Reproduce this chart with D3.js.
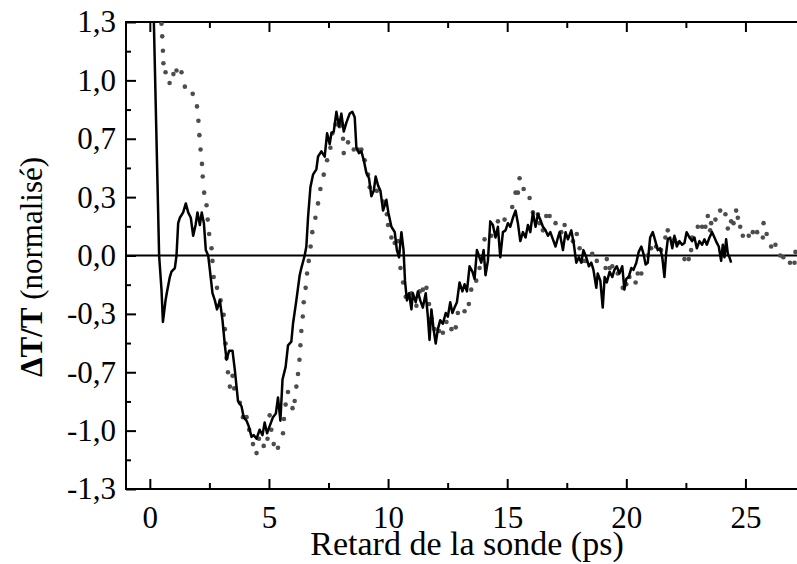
<!DOCTYPE html>
<html>
<head>
<meta charset="utf-8">
<script src="https://cdnjs.cloudflare.com/ajax/libs/d3/7.8.5/d3.min.js"></script>
<style>
  body { margin: 0; background: #fff; }
  svg text { font-family: "Liberation Serif", "Times New Roman", serif; fill: #000; }
</style>
</head>
<body>
<div id="chart"></div>
<script>
// measured signal (solid line) : delay in ps / normalised dT/T
const solidT = [
  0.10, 0.39, 0.49, 0.55, 0.66, 0.71, 0.84, 0.91, 1.05, 1.12,
  1.19, 1.26, 1.40, 1.51, 1.61, 1.72, 1.82, 1.92, 2.00, 2.10,
  2.18, 2.27, 2.35, 2.45, 2.52, 2.63, 2.73, 2.82, 2.94, 3.05,
  3.15, 3.22, 3.33, 3.47, 3.57, 3.70, 3.85, 3.94, 4.06, 4.15,
  4.27, 4.36, 4.48, 4.61, 4.73, 4.82, 4.92, 5.03, 5.17, 5.29,
  5.38, 5.48, 5.57, 5.70, 5.80, 5.94, 6.01, 6.15, 6.29, 6.36,
  6.50, 6.57, 6.64, 6.74, 6.85, 6.99, 7.06, 7.20, 7.34, 7.44,
  7.55, 7.62, 7.72, 7.83, 7.94, 8.04, 8.14, 8.25, 8.39, 8.50,
  8.60, 8.67, 8.78, 8.88, 8.98, 9.09, 9.20, 9.30, 9.40, 9.48,
  9.58, 9.68, 9.79, 9.93, 10.01, 10.14, 10.28, 10.37, 10.46, 10.56,
  10.65, 10.71, 10.79, 10.88, 10.98, 11.04, 11.16, 11.25, 11.35, 11.46,
  11.58, 11.67, 11.74, 11.82, 11.91, 12.00, 12.09, 12.19, 12.30, 12.42,
  12.51, 12.61, 12.70, 12.79, 12.89, 13.00, 13.12, 13.21, 13.31, 13.42,
  13.54, 13.63, 13.73, 13.81, 13.91, 14.01, 14.09, 14.19, 14.29, 14.40,
  14.51, 14.61, 14.71, 14.82, 14.93, 15.03, 15.13, 15.24, 15.35, 15.45,
  15.55, 15.66, 15.77, 15.87, 15.97, 16.08, 16.19, 16.29, 16.39, 16.50,
  16.61, 16.71, 16.81, 16.92, 17.03, 17.13, 17.20, 17.34, 17.45, 17.55,
  17.69, 17.79, 17.90, 18.01, 18.11, 18.20, 18.32, 18.43, 18.53, 18.62,
  18.74, 18.80, 18.91, 19.01, 19.09, 19.18, 19.30, 19.41, 19.50, 19.60,
  19.71, 19.83, 19.92, 20.00, 20.10, 20.21, 20.30, 20.42, 20.52, 20.63,
  20.72, 20.81, 20.90, 21.00, 21.11, 21.22, 21.32, 21.42, 21.51, 21.60,
  21.67, 21.74, 21.84, 21.93, 22.02, 22.12, 22.23, 22.34, 22.44, 22.53,
  22.65, 22.76, 22.86, 22.96, 23.07, 23.18, 23.28, 23.38, 23.49, 23.60,
  23.70, 23.80, 23.88, 23.98, 24.05, 24.12, 24.19, 24.26, 24.33, 24.40
];
const solidV = [
  1.71, 0.00, -0.19, -0.37, -0.25, -0.21, -0.12, -0.09, -0.07, 0.00,
  0.18, 0.21, 0.24, 0.29, 0.24, 0.21, 0.11, 0.17, 0.24, 0.17,
  0.24, 0.18, 0.03, 0.00, -0.08, -0.21, -0.25, -0.30, -0.25, -0.36,
  -0.50, -0.58, -0.53, -0.53, -0.64, -0.81, -0.84, -0.90, -0.92, -0.95,
  -1.01, -1.00, -1.02, -0.97, -1.00, -0.93, -0.99, -0.95, -0.90, -0.88,
  -0.79, -0.92, -0.69, -0.62, -0.50, -0.48, -0.38, -0.25, -0.11, -0.07,
  0.00, 0.05, 0.21, 0.38, 0.45, 0.48, 0.55, 0.58, 0.55, 0.68,
  0.62, 0.68, 0.69, 0.80, 0.72, 0.79, 0.69, 0.74, 0.79, 0.80,
  0.77, 0.60, 0.57, 0.58, 0.53, 0.46, 0.43, 0.33, 0.36, 0.44,
  0.39, 0.36, 0.25, 0.31, 0.24, 0.16, 0.13, 0.03, -0.01, 0.13,
  0.03, -0.14, -0.25, -0.21, -0.30, -0.21, -0.26, -0.20, -0.25, -0.29,
  -0.21, -0.34, -0.47, -0.30, -0.41, -0.49, -0.41, -0.36, -0.38, -0.32,
  -0.34, -0.26, -0.32, -0.29, -0.26, -0.15, -0.20, -0.16, -0.20, -0.06,
  -0.09, -0.13, 0.03, 0.00, -0.04, 0.03, -0.11, -0.03, 0.19, 0.17,
  0.10, 0.16, -0.01, 0.13, 0.14, 0.18, 0.16, 0.21, 0.25, 0.18,
  0.08, 0.13, 0.10, 0.17, 0.13, 0.24, 0.16, 0.23, 0.20, 0.16,
  0.14, 0.11, 0.13, 0.09, 0.05, 0.10, 0.13, 0.03, 0.13, 0.09,
  0.14, 0.07, -0.04, -0.01, -0.04, 0.03, -0.01, -0.06, -0.04, -0.08,
  -0.18, -0.10, -0.14, -0.29, -0.12, -0.15, -0.09, -0.12, -0.08, -0.06,
  -0.10, -0.06, -0.19, -0.13, -0.12, -0.07, -0.08, -0.04, 0.02, 0.05,
  0.01, -0.05, -0.04, 0.10, 0.13, 0.08, 0.03, 0.04, -0.01, -0.12,
  0.01, 0.09, 0.10, 0.04, 0.11, 0.05, 0.08, 0.06, 0.07, 0.13,
  0.10, 0.08, 0.10, 0.04, 0.08, 0.06, 0.09, 0.06, 0.10, 0.13,
  0.10, 0.07, 0.05, -0.03, 0.06, -0.01, 0.09, 0.01, -0.01, -0.04
];

// second curve (grey dots)
const dotT = [
  0.49, 0.52, 0.55, 0.57, 0.66, 0.83, 0.99, 1.12, 1.33, 1.47,
  1.80, 1.98, 2.04, 2.08, 2.13, 2.19, 2.22, 2.28, 2.38, 2.43,
  2.49, 2.59, 2.63, 2.68, 2.82, 2.97, 3.10, 3.15, 3.18, 3.22,
  3.28, 3.36, 3.47, 3.54, 3.78, 3.91, 4.06, 4.17, 4.33, 4.48,
  4.58, 4.78, 4.94, 5.03, 5.10, 5.20, 5.38, 5.59, 5.63, 5.70,
  5.80, 5.99, 6.08, 6.15, 6.22, 6.28, 6.32, 6.36, 6.42, 6.46,
  6.54, 6.60, 6.67, 6.75, 6.82, 6.95, 7.06, 7.16, 7.30, 7.44,
  7.58, 7.66, 7.80, 7.97, 8.07, 8.11, 8.14, 8.32, 8.56, 8.74,
  8.88, 9.02, 9.16, 9.23, 9.53, 9.79, 9.95, 10.00, 10.14, 10.28,
  10.42, 10.52, 10.63, 10.74, 10.88, 10.98, 11.19, 11.33, 11.46, 11.61,
  11.72, 11.82, 11.95, 12.14, 12.30, 12.45, 12.66, 12.84, 12.93, 13.21,
  13.39, 13.49, 13.70, 13.84, 14.05, 14.33, 14.61, 14.89, 15.21, 15.35,
  15.45, 15.52, 15.69, 15.94, 16.08, 16.29, 16.36, 16.50, 16.64, 16.78,
  17.03, 17.27, 17.41, 17.76, 17.92, 18.04, 18.15, 18.29, 18.57, 18.76,
  19.13, 19.18, 19.30, 19.41, 19.64, 19.85, 20.00, 20.13, 20.39, 20.48,
  20.63, 20.90, 21.04, 21.25, 21.46, 21.64, 21.74, 22.02, 22.16, 22.44,
  22.62, 22.72, 22.76, 23.00, 23.18, 23.32, 23.42, 23.52, 23.56, 23.74,
  23.94, 24.16, 24.26, 24.40, 24.50, 24.61, 24.68, 24.78, 24.89, 25.14,
  25.31, 25.49, 25.73, 25.76, 25.89, 26.08, 26.26, 26.46, 26.59, 26.87,
  27.06, 27.10
];
const dotV = [
  1.29, 1.22, 1.14, 1.07, 1.02, 0.96, 1.01, 1.03, 1.02, 0.94,
  0.90, 0.83, 0.75, 0.67, 0.59, 0.51, 0.44, 0.35, 0.28, 0.20,
  0.12, 0.04, -0.03, -0.12, -0.18, -0.25, -0.33, -0.41, -0.49, -0.57,
  -0.65, -0.73, -0.67, -0.74, -0.82, -0.90, -0.90, -0.97, -1.05, -1.10,
  -1.02, -1.06, -1.02, -0.89, -0.97, -1.05, -1.07, -0.99, -0.91, -0.83,
  -0.76, -0.85, -0.81, -0.73, -0.66, -0.58, -0.50, -0.42, -0.34, -0.26,
  -0.18, -0.10, -0.03, 0.05, 0.13, 0.21, 0.29, 0.37, 0.45, 0.53,
  0.60, 0.68, 0.73, 0.72, 0.73, 0.65, 0.57, 0.63, 0.59, 0.59,
  0.59, 0.53, 0.45, 0.38, 0.36, 0.30, 0.23, 0.17, 0.10, 0.07,
  0.08, -0.07, -0.15, -0.23, -0.23, -0.21, -0.28, -0.20, -0.19, -0.18,
  -0.27, -0.35, -0.41, -0.42, -0.43, -0.37, -0.41, -0.40, -0.32, -0.31,
  -0.27, -0.19, -0.14, -0.07, 0.09, 0.11, 0.19, 0.20, 0.27, 0.35,
  0.35, 0.43, 0.37, 0.32, 0.24, 0.23, 0.18, 0.14, 0.22, 0.22,
  0.18, 0.13, 0.17, 0.08, 0.12, 0.04, -0.03, -0.03, 0.01, -0.03,
  -0.07, -0.02, -0.07, -0.06, -0.10, -0.18, -0.16, -0.12, -0.15, -0.10,
  -0.10, 0.00, 0.04, 0.05, 0.03, 0.10, 0.14, 0.09, 0.07, -0.02,
  -0.02, 0.03, 0.10, 0.16, 0.16, 0.16, 0.22, 0.14, 0.18, 0.20,
  0.25, 0.23, 0.15, 0.19, 0.18, 0.25, 0.21, 0.16, 0.11, 0.11,
  0.13, 0.13, 0.10, 0.18, 0.12, 0.05, 0.06, 0.00, -0.01, -0.04,
  -0.04, 0.02
];

// axis ticks
const xMajorTicks = [0, 5, 10, 15, 20, 25];
const xMinorTicks = [2.5, 7.5, 12.5, 17.5, 22.5, 27.5];
const yMajorTicks = [-1.3, -0.975, -0.65, -0.325, 0, 0.325, 0.65, 0.975, 1.3];
const yTickLabels = ["-1,3", "-1,0", "-0,7", "-0,3", "0,0", "0,3", "0,7", "1,0", "1,3"];
const yMinorTicks = [-1.1375, -0.8125, -0.4875, -0.1625, 0.1625, 0.4875, 0.8125, 1.1375];

const xLabel = "Retard de la sonde (ps)";

// set the dimensions and margins of the graph
const W = 797, H = 564;
const margin = { top: 22, left: 126, right: -8, bottom: 75 };
const width = W - margin.left - margin.right;
const height = H - margin.top - margin.bottom;

const svg = d3.select("#chart")
  .append("svg")
  .attr("width", W)
  .attr("height", H);

const g = svg.append("g")
  .attr("transform", `translate(${margin.left},${margin.top})`);

const x = d3.scaleLinear().domain([-1, 27.5]).range([0, width]);
const y = d3.scaleLinear().domain([-1.3, 1.3]).range([height, 0]);

g.append("clipPath").attr("id", "plot-clip")
  .append("rect").attr("width", width).attr("height", height);

// axes : ticks point inward
function styleAxis(sel) {
  sel.select(".domain").remove();
  sel.selectAll(".tick line").attr("stroke", "#000").attr("stroke-width", 2);
  sel.selectAll(".tick text").style("font-size", "31px");
}

const fmtLabel = (d) => yTickLabels[yMajorTicks.indexOf(d)];

g.append("g")
  .attr("transform", `translate(0,${height})`)
  .call(d3.axisBottom(x).tickValues(xMajorTicks).tickSize(-10).tickPadding(17).tickFormat(d3.format("d")))
  .call(styleAxis);
g.append("g")
  .attr("transform", `translate(0,${height})`)
  .call(d3.axisBottom(x).tickValues(xMinorTicks).tickSize(-6).tickFormat(""))
  .call(styleAxis);
g.append("g")
  .call(d3.axisTop(x).tickValues(xMajorTicks).tickSize(-10).tickFormat(""))
  .call(styleAxis);
g.append("g")
  .call(d3.axisTop(x).tickValues(xMinorTicks).tickSize(-6).tickFormat(""))
  .call(styleAxis);

g.append("g")
  .call(d3.axisLeft(y).tickValues(yMajorTicks).tickSize(-10).tickPadding(10).tickFormat(fmtLabel))
  .call(styleAxis);
g.append("g")
  .call(d3.axisLeft(y).tickValues(yMinorTicks).tickSize(-5).tickFormat(""))
  .call(styleAxis);

// frame
g.append("rect")
  .attr("width", width)
  .attr("height", height)
  .attr("fill", "none")
  .attr("stroke", "#000")
  .attr("stroke-width", 2);

// zero line
g.append("line")
  .attr("x1", 0).attr("x2", width)
  .attr("y1", y(0)).attr("y2", y(0))
  .attr("stroke", "#000").attr("stroke-width", 2);

const plot = g.append("g").attr("clip-path", "url(#plot-clip)");

// grey dotted curve
plot.selectAll("circle.dot")
  .data(dotT.map((t, i) => [t, dotV[i]]))
  .join("circle")
  .attr("class", "dot")
  .attr("cx", (d) => x(d[0]))
  .attr("cy", (d) => y(d[1]))
  .attr("r", 2.3)
  .attr("fill", "#4d4d4d");

// solid curve
const line = d3.line().x((d) => x(d[0])).y((d) => y(d[1]));
plot.append("path")
  .datum(solidT.map((t, i) => [t, solidV[i]]))
  .attr("d", line)
  .attr("fill", "none")
  .attr("stroke", "#000")
  .attr("stroke-width", 2.5)
  .attr("stroke-linejoin", "round");

// axis titles
svg.append("text")
  .attr("x", 467)
  .attr("y", 555)
  .attr("text-anchor", "middle")
  .style("font-size", "34px")
  .text(xLabel);

const yTitle = svg.append("text")
  .attr("transform", "translate(42,267) rotate(-90)")
  .attr("text-anchor", "middle")
  .style("font-size", "31px");
yTitle.append("tspan").attr("font-weight", "bold").text("\u0394T/T");
yTitle.append("tspan").text(" (normalisé)");
</script>
</body>
</html>
